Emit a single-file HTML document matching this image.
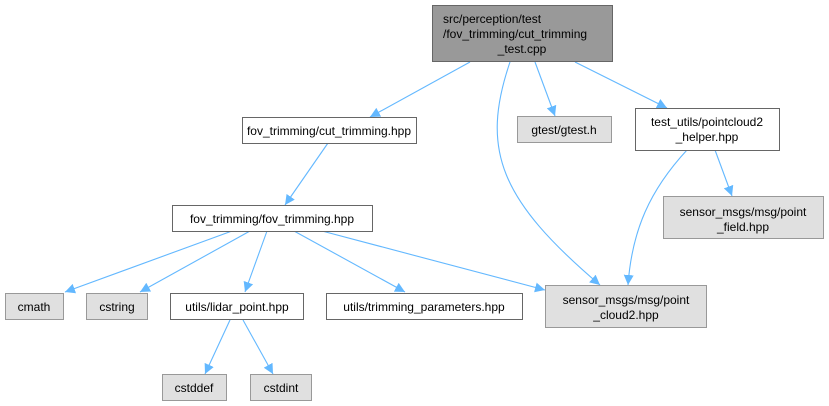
<!DOCTYPE html>
<html><head><meta charset="utf-8"><style>
html,body{margin:0;padding:0;background:#fff;}
svg{display:block;}
text{font-family:"Liberation Sans",Arial,sans-serif;font-size:12px;fill:#000;}
</style></head><body>
<svg width="829" height="406" viewBox="0 0 829 406" xmlns="http://www.w3.org/2000/svg">
<defs>
<marker id="a" viewBox="0 0 10 10" refX="10" refY="5" markerWidth="10" markerHeight="10" markerUnits="userSpaceOnUse" orient="auto">
<path d="M0,0 L10,5 L0,10 z" fill="#63b8ff"/>
</marker>
</defs>
<g fill="none" stroke="#63b8ff" stroke-width="1.1" marker-end="url(#a)">
<path d="M470,62 L370,117"/>
<path d="M535,62 L555,116"/>
<path d="M575,62 L667,108"/>
<path d="M510,62 C480,150 500,200 600,285"/>
<path d="M687,150 C650,190 632,230 628,285"/>
<path d="M715,150 L732,196"/>
<path d="M328,143 L285,205"/>
<path d="M232,231 L65,292"/>
<path d="M250,231 L140,292"/>
<path d="M267,231 L245,292"/>
<path d="M294,231 L405,292"/>
<path d="M322,231 L545,290"/>
<path d="M230,320 L205,374"/>
<path d="M243,320 L273,374"/>
</g>
<g stroke-width="1">
<rect x="432.5" y="5.5" width="180" height="56" fill="#999999" stroke="#666666"/>
<rect x="242.5" y="117.5" width="174" height="26" fill="#fff" stroke="#666666"/>
<rect x="517.5" y="116.5" width="94" height="26" fill="#e0e0e0" stroke="#999999"/>
<rect x="635.5" y="108.5" width="144" height="42" fill="#fff" stroke="#666666"/>
<rect x="172.5" y="205.5" width="200" height="26" fill="#fff" stroke="#666666"/>
<rect x="663.5" y="196.5" width="160" height="42" fill="#e0e0e0" stroke="#999999"/>
<rect x="5.5" y="293.5" width="58" height="26" fill="#e0e0e0" stroke="#999999"/>
<rect x="86.5" y="293.5" width="61" height="26" fill="#e0e0e0" stroke="#999999"/>
<rect x="170.5" y="293.5" width="133" height="26" fill="#fff" stroke="#666666"/>
<rect x="326.5" y="293.5" width="196" height="26" fill="#fff" stroke="#666666"/>
<rect x="545.5" y="285.5" width="161" height="42" fill="#e0e0e0" stroke="#999999"/>
<rect x="162.5" y="374.5" width="64" height="26" fill="#e0e0e0" stroke="#999999"/>
<rect x="250.5" y="374.5" width="61" height="26" fill="#e0e0e0" stroke="#999999"/>
</g>
<text x="443" y="23">src/perception/test</text>
<text x="443" y="38">/fov_trimming/cut_trimming</text>
<text x="522" y="53" text-anchor="middle">_test.cpp</text>
<text x="329" y="135" text-anchor="middle">fov_trimming/cut_trimming.hpp</text>
<text x="564" y="134" text-anchor="middle">gtest/gtest.h</text>
<text x="707" y="126" text-anchor="middle">test_utils/pointcloud2</text>
<text x="707" y="141" text-anchor="middle">_helper.hpp</text>
<text x="272" y="223" text-anchor="middle">fov_trimming/fov_trimming.hpp</text>
<text x="743" y="216" text-anchor="middle">sensor_msgs/msg/point</text>
<text x="743" y="231" text-anchor="middle">_field.hpp</text>
<text x="34" y="311" text-anchor="middle">cmath</text>
<text x="117" y="311" text-anchor="middle">cstring</text>
<text x="237" y="311" text-anchor="middle">utils/lidar_point.hpp</text>
<text x="424" y="311" text-anchor="middle">utils/trimming_parameters.hpp</text>
<text x="626" y="304" text-anchor="middle">sensor_msgs/msg/point</text>
<text x="626" y="319" text-anchor="middle">_cloud2.hpp</text>
<text x="194" y="392" text-anchor="middle">cstddef</text>
<text x="281" y="392" text-anchor="middle">cstdint</text>
</svg>
</body></html>
